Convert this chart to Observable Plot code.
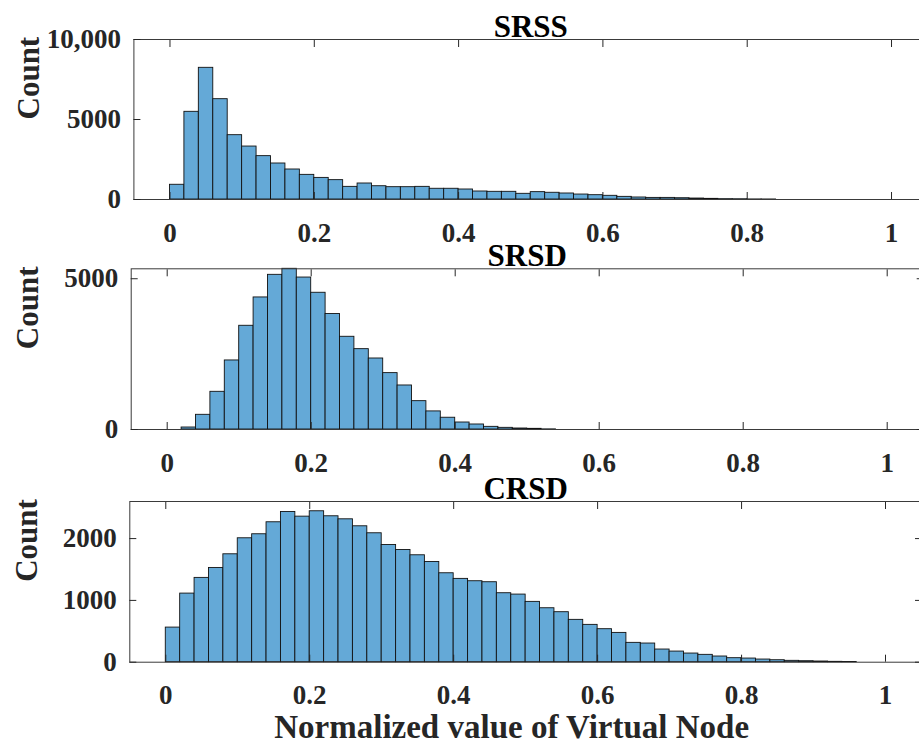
<!DOCTYPE html>
<html><head><meta charset="utf-8">
<script src="https://cdn.jsdelivr.net/npm/d3@7"></script>
<script src="https://cdn.jsdelivr.net/npm/@observablehq/plot@0.6"></script>
<style>
html,body{margin:0;padding:0;background:#fff;overflow:hidden;width:919px;height:745px}
#chart{position:relative;width:919px;height:745px;background:#fff}
#chart svg{display:block;position:absolute;left:0;overflow:visible;background:transparent}
</style>
</head><body><div id="chart"></div>
<script>
// ---- data ----
const titles = ["SRSS", "SRSD", "CRSD"];
const binWidth = 0.02; // histogram bins from 0 to 1
const srss = [920, 5480, 8230, 6270, 4020, 3310, 2710, 2250, 1875, 1540,
              1350, 1210, 790, 1000, 830, 770, 770, 790, 670, 670,
              625, 500, 480, 480, 355, 460, 420, 375, 310, 270,
              230, 165, 125, 100, 100, 80, 60, 40, 20, 15,
              4, 2, 0, 0, 0, 0, 0, 0, 0, 0];
const srsd = [0, 66, 487, 1250, 2290, 3440, 4380, 5130, 5330, 5040,
              4535, 3830, 3075, 2665, 2355, 1870, 1460, 940, 600, 390,
              232, 166, 88, 55, 33, 22, 4, 0, 0, 0,
              0, 0, 0, 0, 0, 0, 0, 0, 0, 0,
              0, 0, 0, 0, 0, 0, 0, 0, 0, 0];
const crsd = [560, 1110, 1364, 1525, 1746, 2005, 2070, 2264, 2431, 2355,
              2442, 2361, 2312, 2199, 2086, 1897, 1816, 1730, 1622, 1439,
              1348, 1310, 1294, 1116, 1094, 976, 873, 809, 685, 604,
              534, 474, 313, 302, 205, 172, 140, 119, 92, 65,
              59, 43, 32, 22, 16, 11, 6, 3, 0, 0];
const xTicks = [0, 0.2, 0.4, 0.6, 0.8, 1];
const xTickLabels = ["0", "0.2", "0.4", "0.6", "0.8", "1"];
const yTicksSRSS = [0, 5000, 10000];
const yLabelsSRSS = ["0", "5000", "10,000"];
const yTicksSRSD = [0, 5000];
const yLabelsSRSD = ["0", "5000"];
const yTicksCRSD = [0, 1000, 2000];
const yLabelsCRSD = ["0", "1000", "2000"];
const yMax = [10000, 5330, 2600];
const xDomain = [-0.05, 1.05];
const yAxisLabel = "Count";
const xAxisLabel = "Normalized value of Virtual Node";

// ---- drawing ----
const FONT = "'Liberation Serif', 'Times New Roman', serif";
const INK = "#262626";

function panel({title, counts, yTicks, yLabels, ymax, height, mt, mb, ml, mr, ylabDx, xlabel}) {
  const bins = counts.map((c, i) => ({x1: i * binWidth, x2: (i + 1) * binWidth, count: c}))
                     .filter(d => d.count > 0);
  const xl = new Map(xTicks.map((t, i) => [t, xTickLabels[i]]));
  const yl = new Map(yTicks.map((t, i) => [t, yLabels[i]]));
  const marks = [
    Plot.rectY(bins, {x1: "x1", x2: "x2", y: "count", fill: "#64a9d7", stroke: "#111", strokeWidth: 0.9}),
    Plot.frame({stroke: "#3a3a3a", strokeWidth: 1}),
    Plot.axisX(xTicks, {anchor: "bottom", tickSize: -7, tickPadding: 30, tickFormat: d => xl.get(d), label: null, stroke: INK, fill: INK}),
    Plot.axisX(xTicks, {anchor: "top", tickSize: -7, tickFormat: () => "", label: null, stroke: INK}),
    Plot.axisY(yTicks, {anchor: "left", tickSize: -7, tickPadding: 20, tickFormat: d => yl.get(d), label: null, stroke: INK, fill: INK}),
    Plot.axisY(yTicks, {anchor: "right", tickSize: -7, tickFormat: () => "", label: null, stroke: INK}),
    Plot.text([title], {text: d => d, frameAnchor: "top", lineAnchor: "bottom", dy: -3, fontSize: 31, fill: "#000"}),
    Plot.text([yAxisLabel], {text: d => d, frameAnchor: "left", rotate: -90, dx: ylabDx, fontSize: 31, fill: INK})
  ];
  if (xlabel) {
    marks.push(Plot.text([xlabel], {text: d => d, frameAnchor: "bottom", lineAnchor: "bottom", dy: 76, dx: -14, fontSize: 33, fill: INK}));
  }
  return Plot.plot({
    width: 919, height,
    marginTop: mt, marginBottom: mb, marginLeft: ml, marginRight: mr,
    style: {fontFamily: FONT, fontWeight: "bold", fontSize: "27px", color: INK, background: "transparent", overflow: "visible"},
    x: {domain: xDomain},
    y: {domain: [0, ymax]},
    marks
  });
}

const chart = document.getElementById("chart");
function place(svg, top) { svg.style.top = top + "px"; chart.append(svg); }
place(panel({title: titles[0], counts: srss, yTicks: yTicksSRSS, yLabels: yLabelsSRSS, ymax: yMax[0],
  height: 260, mt: 39, mb: 61, ml: 133.4, mr: -8.1, ylabDx: -105}), 0);
place(panel({title: titles[1], counts: srsd, yTicks: yTicksSRSD, yLabels: yLabelsSRSD, ymax: yMax[1],
  height: 275, mt: 53.3, mb: 61, ml: 130.7, mr: -3.7, ylabDx: -103}), 215);
place(panel({title: titles[2], counts: crsd, yTicks: yTicksCRSD, yLabels: yLabelsCRSD, ymax: yMax[2],
  height: 300, mt: 56, mb: 83.3, ml: 129.3, mr: -2, ylabDx: -102.6, xlabel: xAxisLabel}), 445);
</script>
</body></html>
